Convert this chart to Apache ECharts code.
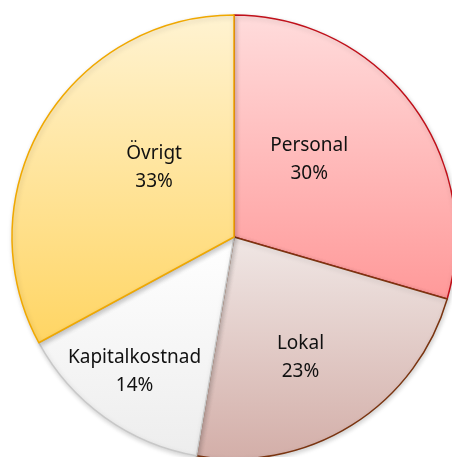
<!DOCTYPE html>
<html>
<head>
<meta charset="utf-8">
<script src="https://cdn.jsdelivr.net/npm/echarts@6/dist/echarts.min.js"></script>
<style>
  html, body { margin: 0; padding: 0; background: #fff; }
  #chart { width: 452px; height: 457px; }
</style>
</head>
<body>
<div id="chart"></div>
<script>
// data (slice angles), labels round to 30/23/14/33 %
var categories = ["Personal", "Lokal", "Kapitalkostnad", "Övrigt"];
var shares = [29.5, 23.2, 14.4, 32.9];

// look of each slice: gradient top/bottom and border colour
var topColors = ["#ffdcdc", "#f0e7e5", "#ffffff", "#fff3d2"];
var bottomColors = ["#ff9999", "#d3aea8", "#ededed", "#ffd563"];
var borderColors = ["#c0101a", "#7a3410", "#c8c8c8", "#f0a800"];
// nudge labels to where Excel put them
var labelShift = [[-16, -9], [6, 24], [-33, 42], [18, -11]];

var myChart = echarts.init(document.getElementById("chart"));

var pieData = categories.map(function (name, i) {
  return {
    name: name,
    value: shares[i],
    itemStyle: {
      color: new echarts.graphic.LinearGradient(0, 0, 0, 1, [
        { offset: 0, color: topColors[i] },
        { offset: 1, color: bottomColors[i] },
      ]),
      borderColor: borderColors[i],
    },
  };
});

var option = {
  animation: false,
  series: [
    {
      type: "pie",
      center: [234, 237],
      radius: 222,
      startAngle: 90,
      clockwise: true,
      percentPrecision: 0,
      avoidLabelOverlap: false,
      itemStyle: {
        borderWidth: 1.5,
        shadowBlur: 5,
        shadowColor: "rgba(0,0,0,0.18)",
        shadowOffsetX: 1,
        shadowOffsetY: 2,
      },
      label: {
        show: true,
        position: "inside",
        formatter: "{b}\n{d}%",
        color: "#111",
        fontFamily: "Noto Sans",
        fontSize: 19,
        lineHeight: 28,
        align: "center",
      },
      labelLine: { show: false },
      labelLayout: function (params) {
        var s = labelShift[params.dataIndex];
        return { dx: s[0], dy: s[1] };
      },
      emphasis: { disabled: true },
      data: pieData,
    },
  ],
};
option && myChart.setOption(option);
</script>
</body>
</html>
